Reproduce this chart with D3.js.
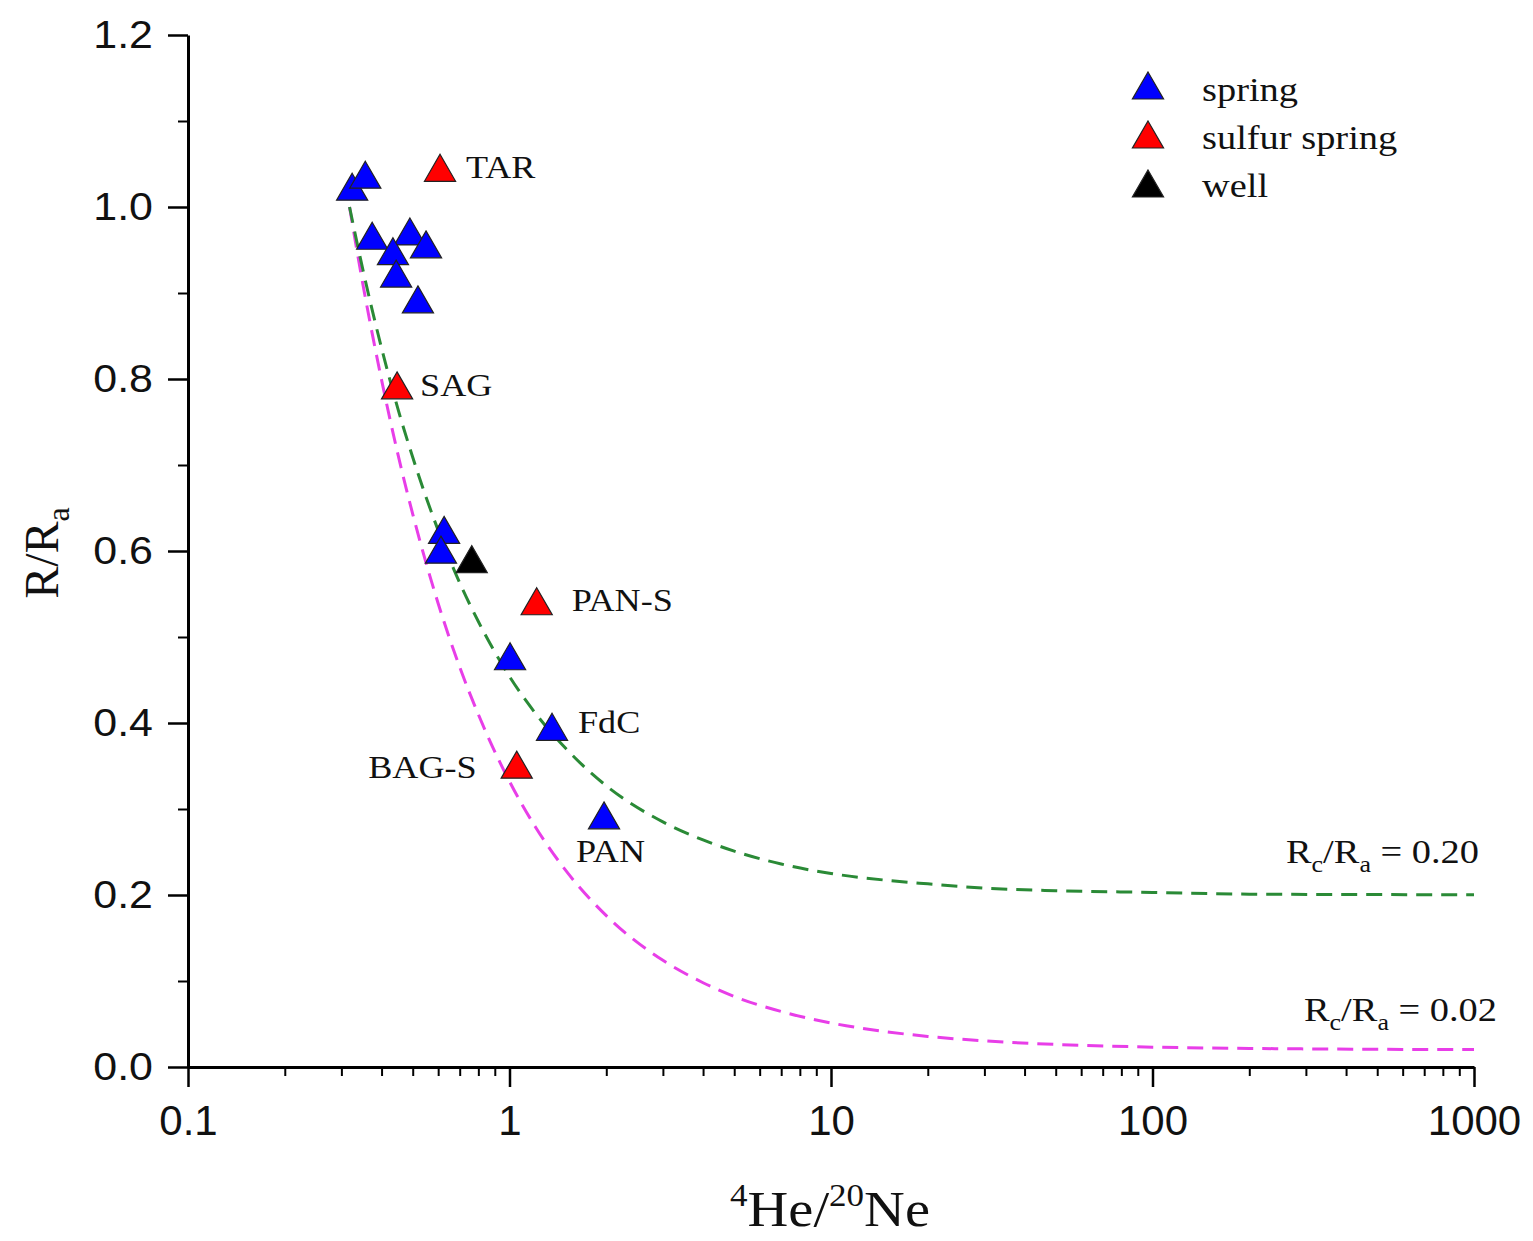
<!DOCTYPE html>
<html><head><meta charset="utf-8">
<script src="https://cdn.jsdelivr.net/npm/d3@7"></script>
<style>body{margin:0;background:#fff}svg{display:block}</style>
</head><body>
<script>
// ---- data ----
const springX = [0.324, 0.356, 0.374, 0.490, 0.434, 0.550, 0.444, 0.519, 0.626, 0.612, 1.004, 1.356, 1.968];
const springY = [1.023, 1.037, 0.966, 0.971, 0.948, 0.956, 0.922, 0.892, 0.624, 0.601, 0.477, 0.395, 0.292];
const sulfurX = [0.608, 0.447, 1.215, 1.053];
const sulfurY = [1.045, 0.792, 0.541, 0.351];
const wellX = [0.763];
const wellY = [0.590];

const labelNames = ["TAR", "SAG", "PAN-S", "FdC", "BAG-S", "PAN"];
const labelX = [0.608, 0.447, 1.215, 1.356, 1.053, 1.968];
const labelY = [1.045, 0.792, 0.541, 0.395, 0.351, 0.292];

const curveX = [0.318, 0.35, 0.4, 0.45, 0.5, 0.6, 0.7, 0.8, 1, 1.2, 1.5, 2, 3, 4, 5, 7, 10, 15, 20, 30, 50, 100, 200, 500, 1000];
const curve020Y = [1.0, 0.927, 0.836, 0.765, 0.709, 0.624, 0.563, 0.518, 0.454, 0.412, 0.370, 0.327, 0.285, 0.264, 0.251, 0.236, 0.225, 0.217, 0.213, 0.208, 0.205, 0.203, 0.201, 0.2005, 0.2003];
const curve002Y = [1.0, 0.910, 0.799, 0.712, 0.643, 0.539, 0.465, 0.410, 0.332, 0.280, 0.228, 0.176, 0.124, 0.098, 0.082, 0.0645, 0.0512, 0.0408, 0.0356, 0.0304, 0.0262, 0.0231, 0.0216, 0.0206, 0.0203];

const xTickVals = [0.1, 1, 10, 100, 1000];
const xTickLabels = ["0.1", "1", "10", "100", "1000"];
const yTickVals = [0, 0.2, 0.4, 0.6, 0.8, 1.0, 1.2];
const legendNames = ["spring", "sulfur spring", "well"];
const legendColors = ["#0000ff", "#ff0000", "#000000"];

// ---- layout ----
const W = 1533, H = 1241;
const mLeft = 188, mRight = 1474, mTop = 35, mBottom = 1067;
const SX = 1.13; // horizontal text stretch seen in the reference
const svg = d3.select("body").append("svg").attr("width", W).attr("height", H);

const x = d3.scaleLog().domain([0.1, 1000]).range([mLeft, mRight]);
const y = d3.scaleLinear().domain([0, 1.2]).range([mBottom, mTop]);

const serif = "'Liberation Serif','Times New Roman',serif";
const sans = "'Liberation Sans',Arial,sans-serif";

function stretchedText(px, py, anchor, size) {
  return svg.append("g").attr("transform", `translate(${px},${py}) scale(${SX},1)`)
    .append("text").attr("text-anchor", anchor).attr("font-family", serif)
    .attr("font-size", size).attr("fill", "#111");
}

// curves
const line = d3.line().x(d => x(d[0])).y(d => y(d[1])).curve(d3.curveMonotoneX);
svg.append("path").datum(curveX.map((v, i) => [v, curve002Y[i]]))
  .attr("d", line).attr("fill", "none").attr("stroke", "#e83ee8").attr("stroke-width", 3).attr("stroke-dasharray", "16,9");
svg.append("path").datum(curveX.map((v, i) => [v, curve020Y[i]]))
  .attr("d", line).attr("fill", "none").attr("stroke", "#2a8a36").attr("stroke-width", 3).attr("stroke-dasharray", "16,9");

// axes
const minorX = [];
for (let e = -1; e < 3; e++) for (let k = 2; k <= 9; k++) minorX.push(k * Math.pow(10, e));
svg.append("g").attr("transform", `translate(0,${mBottom})`)
  .call(d3.axisBottom(x).tickValues(minorX).tickFormat("").tickSize(9))
  .call(g => g.select(".domain").remove())
  .call(g => g.selectAll(".tick line").attr("stroke-width", 2));
svg.append("g").attr("transform", `translate(0,${mBottom})`)
  .call(d3.axisBottom(x).tickValues(xTickVals).tickFormat((d, i) => xTickLabels[i]).tickSize(20).tickPadding(18).tickSizeOuter(0))
  .call(g => g.select(".domain").attr("stroke-width", 3))
  .call(g => g.selectAll(".tick line").attr("stroke-width", 2.5))
  .call(g => g.selectAll("text").attr("font-family", sans).attr("font-size", 42).attr("fill", "#111"));

const minorY = [0.1, 0.3, 0.5, 0.7, 0.9, 1.1];
svg.append("g").attr("transform", `translate(${mLeft},0)`)
  .call(d3.axisLeft(y).tickValues(minorY).tickFormat("").tickSize(10))
  .call(g => g.select(".domain").remove())
  .call(g => g.selectAll(".tick line").attr("stroke-width", 2));
svg.append("g").attr("transform", `translate(${mLeft},0)`)
  .call(d3.axisLeft(y).tickValues(yTickVals).tickFormat(d3.format(".1f")).tickSize(20).tickPadding(15).tickSizeOuter(0))
  .call(g => g.select(".domain").attr("stroke-width", 3))
  .call(g => g.selectAll(".tick line").attr("stroke-width", 2.5))
  .call(g => g.selectAll("text").attr("font-family", sans).attr("font-size", 38).attr("fill", "#111")
    .attr("x", -35 / SX).attr("transform", `scale(${SX},1)`));

// axis titles
const yt = svg.append("text").attr("transform", "translate(58,553) rotate(-90)")
  .attr("text-anchor", "middle").attr("font-family", serif).attr("font-size", 48).attr("fill", "#111");
yt.append("tspan").text("R/R");
yt.append("tspan").text("a").attr("font-size", 32).attr("dy", 11);

const xt = stretchedText(830, 1226, "middle", 50);
xt.append("tspan").text("4").attr("font-size", 31).attr("dy", -20);
xt.append("tspan").text("He/").attr("dy", 20);
xt.append("tspan").text("20").attr("font-size", 31).attr("dy", -20);
xt.append("tspan").text("Ne").attr("dy", 20);

// points
const tri = d3.symbol().type(d3.symbolTriangle).size(420);
function drawPts(xs, ys, color) {
  svg.append("g").selectAll("path").data(xs.map((v, i) => [v, ys[i]])).join("path")
    .attr("d", tri).attr("transform", d => `translate(${x(d[0])},${y(d[1]) + 4})`)
    .attr("fill", color).attr("stroke", "#222").attr("stroke-width", 1.2);
}
drawPts(springX, springY, legendColors[0]);
drawPts(sulfurX, sulfurY, legendColors[1]);
drawPts(wellX, wellY, legendColors[2]);

// point labels
const labelDx = [26, 23, 35, 26, -40, -28];
const labelDy = [10, 10, 9, 6, 13, 46];
const labelAnchor = ["start", "start", "start", "start", "end", "start"];
labelNames.forEach((n, i) => {
  stretchedText(x(labelX[i]) + labelDx[i], y(labelY[i]) + labelDy[i], labelAnchor[i], 32).text(n);
});

// curve annotations
function rcLabel(xr, yb, val) {
  const t = stretchedText(xr, yb, "end", 34);
  t.append("tspan").text("R");
  t.append("tspan").text("c").attr("font-size", 23).attr("dy", 9);
  t.append("tspan").text("/R").attr("dy", -9);
  t.append("tspan").text("a").attr("font-size", 23).attr("dy", 9);
  t.append("tspan").text(" = " + val).attr("dy", -9);
}
rcLabel(1479, 863, "0.20");
rcLabel(1497, 1021, "0.02");

// legend
legendNames.forEach((n, i) => {
  svg.append("path").attr("d", tri).attr("transform", `translate(1148,${90 + i * 49})`)
    .attr("fill", legendColors[i]).attr("stroke", "#222").attr("stroke-width", 1.2);
  stretchedText(1202, 101 + i * 48, "start", 34).text(n);
});
</script>
</body></html>
